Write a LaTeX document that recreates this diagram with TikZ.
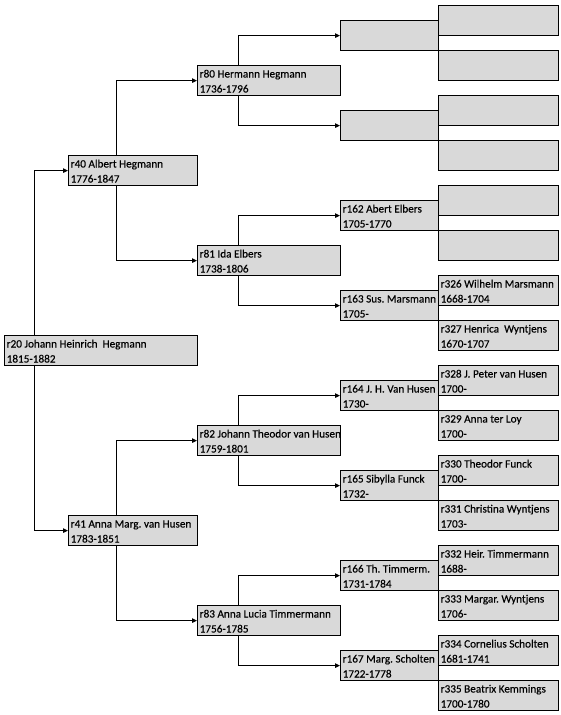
\documentclass[tikz,border=0pt]{standalone}
\usepackage{fontspec}
\setmainfont{Carlito}
\newfontfamily\boxfont{Carlito}[FakeBold=0.35]
\usetikzlibrary{arrows.meta}
\definecolor{boxgray}{HTML}{D9D9D9}
\newcommand\pb[6]{%
  \node[pbox, minimum width=#4pt] (#1) at (#2,#3) {};
  \node[ptext] (#1a) at ([shift={(2.5,12.5)}]#1.north west) {#5};
  \node[ptext] (#1b) at ([shift={(2.5,27.5)}]#1.north west) {#6};}
\newcommand\eb[4]{%
  \node[pbox, minimum width=#4pt] (#1) at (#2,#3) {};}
\frenchspacing
\begin{document}
\begin{tikzpicture}[x=1pt,y=-1pt,
  pbox/.style={draw=black, line width=1.2pt, fill=boxgray, minimum height=30pt, inner sep=0pt, anchor=north west},
  ptext/.style={anchor=base west, inner sep=0pt, font=\boxfont\fontsize{11.2}{12}\selectfont},
  conn/.style={line width=0.9pt, -{Triangle[length=5pt,width=4.5pt]}}]
\fill[white] (0,0) rectangle (560,715);
\useasboundingbox (0,0) rectangle (560,715);
% column A
\pb{r20}{4}{335}{193}{r20 Johann Heinrich\ \ Hegmann}{1815-1882}
% column B
\pb{r40}{68}{155}{129}{r40 Albert Hegmann}{1776-1847}
\pb{r41}{68}{515}{129}{r41 Anna Marg. van Husen}{1783-1851}
% column C
\pb{r80}{197}{65}{143}{r80 Hermann Hegmann}{1736-1796}
\pb{r81}{197}{245}{143}{r81 Ida Elbers}{1738-1806}
\pb{r82}{197}{425}{143}{r82 Johann Theodor van Husen}{1759-1801}
\pb{r83}{197}{605}{143}{r83 Anna Lucia Timmermann}{1756-1785}
% column D
\eb{r160}{340}{20}{98}
\eb{r161}{340}{110}{98}
\pb{r162}{340}{200}{98}{r162 Abert Elbers}{1705-1770}
\pb{r163}{340}{290}{98}{r163 Sus. Marsmann}{1705-}
\pb{r164}{340}{380}{98}{r164 J. H. Van Husen}{1730-}
\pb{r165}{340}{470}{98}{r165 Sibylla Funck}{1732-}
\pb{r166}{340}{560}{98}{r166 Th. Timmerm.}{1731-1784}
\pb{r167}{340}{650}{98}{r167 Marg. Scholten}{1722-1778}
% column E
\eb{r320}{438}{5}{120}
\eb{r321}{438}{50}{120}
\eb{r322}{438}{95}{120}
\eb{r323}{438}{140}{120}
\eb{r324}{438}{185}{120}
\eb{r325}{438}{230}{120}
\pb{r326}{438}{275}{120}{r326 Wilhelm Marsmann}{1668-1704}
\pb{r327}{438}{320}{120}{r327 Henrica\ \ Wyntjens}{1670-1707}
\pb{r328}{438}{365}{120}{r328 J. Peter van Husen}{1700-}
\pb{r329}{438}{410}{120}{r329 Anna ter Loy}{1700-}
\pb{r330}{438}{455}{120}{r330 Theodor Funck}{1700-}
\pb{r331}{438}{500}{120}{r331 Christina Wyntjens}{1703-}
\pb{r332}{438}{545}{120}{r332 Heir. Timmermann}{1688-}
\pb{r333}{438}{590}{120}{r333 Margar. Wyntjens}{1706-}
\pb{r334}{438}{635}{120}{r334 Cornelius Scholten}{1681-1741}
\pb{r335}{438}{680}{120}{r335 Beatrix Kemmings}{1700-1780}
% connectors
\draw[conn] ([xshift=30pt]r20.north west) |- (r40.west);
\draw[conn] ([xshift=30pt]r20.south west) |- (r41.west);
\draw[conn] ([xshift=48pt]r40.north west) |- (r80.west);
\draw[conn] ([xshift=48pt]r40.south west) |- (r81.west);
\draw[conn] ([xshift=48pt]r41.north west) |- (r82.west);
\draw[conn] ([xshift=48pt]r41.south west) |- (r83.west);
\draw[conn] ([xshift=41pt]r80.north west) |- (r160.west);
\draw[conn] ([xshift=41pt]r80.south west) |- (r161.west);
\draw[conn] ([xshift=41pt]r81.north west) |- (r162.west);
\draw[conn] ([xshift=41pt]r81.south west) |- (r163.west);
\draw[conn] ([xshift=41pt]r82.north west) |- (r164.west);
\draw[conn] ([xshift=41pt]r82.south west) |- (r165.west);
\draw[conn] ([xshift=41pt]r83.north west) |- (r166.west);
\draw[conn] ([xshift=41pt]r83.south west) |- (r167.west);
\end{tikzpicture}
\end{document}
